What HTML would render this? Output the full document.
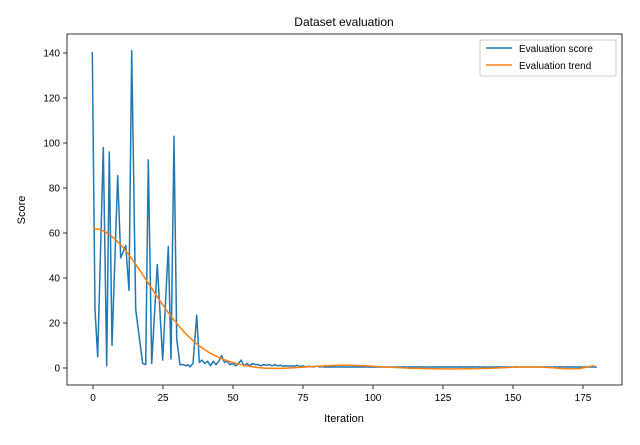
<!DOCTYPE html>
<html><head><meta charset="utf-8"><style>
body{margin:0;background:#fff;}
svg{font-family:"Liberation Sans","DejaVu Sans",sans-serif;}
</style></head><body>
<svg id="s" width="640" height="440" viewBox="0 0 640 440" xmlns="http://www.w3.org/2000/svg">
<rect width="640" height="440" fill="#fff"/>
<g id="ticks" font-size="10" fill="#000"></g>
<path id="score" fill="none" stroke="#1f77b4" stroke-width="1.5" stroke-linejoin="round"/>
<path id="trend" fill="none" stroke="#ff7f0e" stroke-width="1.5"/>
<rect x="67" y="34" width="555" height="351" fill="none" stroke="#000" stroke-width="0.8"/>
<text x="344" y="26" font-size="12" text-anchor="middle">Dataset evaluation</text>
<text x="344" y="422" font-size="11" text-anchor="middle">Iteration</text>
<text x="25" y="210" font-size="11" text-anchor="middle" transform="rotate(-90 25 210)">Score</text>
<rect x="480" y="40" width="136" height="36" fill="#fff" stroke="#ccc" rx="2"/>
<line x1="486" y1="48" x2="512" y2="48" stroke="#1f77b4" stroke-width="1.5"/>
<text x="519" y="52" font-size="10">Evaluation score</text>
<line x1="486" y1="65" x2="512" y2="65" stroke="#ff7f0e" stroke-width="1.5"/>
<text x="519" y="69" font-size="10">Evaluation trend</text>
</svg>
<script>
var X=function(i){return 93+2.8*i},Y=function(v){return 368-2.25*v};
var pts=[[92.3,140.5],[95,26],[97.7,5],[103.3,98],[106.7,1],[109.3,96],[112,10],[117.7,85.5],[120.7,49],[125.7,54.5],[129,34.5],[131.7,141],[135.7,26],[142.7,2],[145.7,1.5],[148.3,92.5],[151.7,2],[157.3,46],[162.7,3.5],[168.3,54],[171,4],[174,103],[176.7,13],[180,1.5],[183,1.5],[186,1],[188,1.5],[190,0.5],[193,2],[196.7,23.5],[199.3,2.5]];
var tail=[3.5,2,3,1,3,1.5,3,5.5,2.5,3,1.5,2,1,2,3.5,1,2,1,2,1.5,1.5,1,1.5,1.2,1.5,1,1.5,1,1.2,0.8,1,0.7,1,0.8,1.2,0.6,1,0.5,0.8,0.6,0.5,0.8,0.5,0.6];
var x=202;tail.forEach(function(v){pts.push([x,v]);x+=2.8});
while(x<=597){pts.push([x,0.45+0.05*Math.sin(x)]);x+=2.8}
var p='';pts.forEach(function(a,i){p+=(i?'L':'M')+a[0].toFixed(1)+' '+Y(a[1]).toFixed(1)});
document.getElementById('score').setAttribute('d',p);
var q='';for(var i=0;i<180;i++){var v=62*Math.exp(-Math.pow(i/28,2))-0.6*Math.exp(-Math.pow((i-62)/10,2))+1.2*Math.exp(-Math.pow((i-90)/15,2))-0.4*Math.exp(-Math.pow((i-128)/15,2))+0.5*Math.exp(-Math.pow((i-155)/10,2))-0.4*Math.exp(-Math.pow((i-170)/5,2))+(i>174?(i-174)*0.2:0);q+=(i?'L':'M')+X(i).toFixed(1)+' '+Y(v).toFixed(1)}
document.getElementById('trend').setAttribute('d',q);
var g=document.getElementById('ticks'),h='';
for(var t=0;t<=175;t+=25){var xx=X(t);h+='<line x1="'+xx+'" y1="385" x2="'+xx+'" y2="389" stroke="#000" stroke-width="0.8"/><text x="'+xx+'" y="401" text-anchor="middle">'+t+'</text>';}
for(var t=0;t<=140;t+=20){var y=Y(t);h+='<line x1="63" y1="'+y+'" x2="67" y2="'+y+'" stroke="#000" stroke-width="0.8"/><text x="60" y="'+(y+3.5)+'" text-anchor="end">'+t+'</text>';}
g.innerHTML=h;
</script>
</body></html>
